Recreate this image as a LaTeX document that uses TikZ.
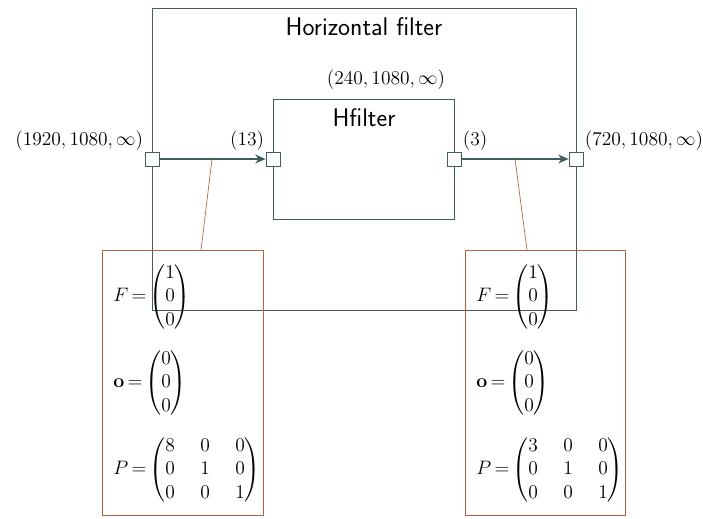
\documentclass[tikz,border=0pt]{standalone}
\usepackage{fix-cm}
\usepackage{amsmath}
\usetikzlibrary{arrows.meta}
\definecolor{frame}{HTML}{3F5E5E}
\definecolor{annot}{HTML}{B5633F}
\tikzset{
  boxline/.style={draw=frame, line width=0.5pt},
  port/.style={draw=frame, fill=white, line width=0.5pt, minimum size=9.3pt, inner sep=0pt},
  flow/.style={draw=frame, line width=0.75pt, -{Stealth[length=7pt,width=6pt]}},
  annobox/.style={draw=annot, line width=0.5pt},
  annoline/.style={draw=annot, line width=0.45pt},
  plabel/.style={inner sep=0.8pt, font=\fontsize{13}{15.6}\selectfont},
  eqn/.style={anchor=west, inner sep=0pt, font=\fontsize{13}{15.6}\selectfont},
  title/.style={font=\fontsize{17}{20}\selectfont\sffamily},
}
\setlength\arraycolsep{8.5pt}
\thickmuskip=3mu plus 2mu
\begin{document}
\begin{tikzpicture}[x=0.667pt, y=-0.667pt]
\useasboundingbox (0,0) rectangle (703,518);
% outer and inner boxes
\node[boxline, minimum width=424*0.667pt, minimum height=302*0.667pt, inner sep=0pt] (outer) at (364,159) {};
\node[boxline, minimum width=181*0.667pt, minimum height=120*0.667pt, inner sep=0pt] (inner) at (363.5,159) {};
\node[title] (ttl) at (364,27) {Horizontal filter};
\node[title] (htl) at (364,118) {Hfilter};
\node[plabel] (dimh) at (386,80) {$(240,1080,\infty)$};
% ports
\node[port] (p1) at (152,159) {};
\node[port] (p2) at (273,159) {};
\node[port] (p3) at (454,159) {};
\node[port] (p4) at (576,159) {};
\node[plabel, anchor=south east] (l1) at (p1.north west) {$(1920,1080,\infty)$};
\node[plabel, anchor=south east] (l2) at (p2.north west) {$(13)$};
\node[plabel, anchor=south west] (l3) at (p3.north east) {$(3)$};
\node[plabel, anchor=south west] (l4) at (p4.north east) {$(720,1080,\infty)$};
\draw[flow] (p1) -- (p2);
\draw[flow] (p3) -- (p4);
% annotation boxes
\node[annobox, minimum width=161*0.667pt, minimum height=265*0.667pt, inner sep=0pt] (bl) at (182.5,382.5) {};
\node[annobox, minimum width=160*0.667pt, minimum height=265*0.667pt, inner sep=0pt] (br) at (545,382.5) {};
\coordinate (c1) at (212,159);
\coordinate (c1b) at (201,250);
\coordinate (c2) at (515,159);
\coordinate (c2b) at (527,250);
\draw[annoline] (c1) -- (c1b);
\draw[annoline] (c2) -- (c2b);
% left contents
\node[eqn] (fl) at (113,297) {$F=\begin{pmatrix}1\\0\\0\end{pmatrix}$};
\node[eqn] (ol) at (113,383) {$\mathbf{o}=\begin{pmatrix}0\\0\\0\end{pmatrix}$};
\node[eqn] (pl) at (113,470) {$P=\begin{pmatrix}8&0&0\\0&1&0\\0&0&1\end{pmatrix}$};
% right contents
\node[eqn] (fr) at (476,297) {$F=\begin{pmatrix}1\\0\\0\end{pmatrix}$};
\node[eqn] (or) at (476,383) {$\mathbf{o}=\begin{pmatrix}0\\0\\0\end{pmatrix}$};
\node[eqn] (pr) at (476,470) {$P=\begin{pmatrix}3&0&0\\0&1&0\\0&0&1\end{pmatrix}$};
\end{tikzpicture}
\end{document}
